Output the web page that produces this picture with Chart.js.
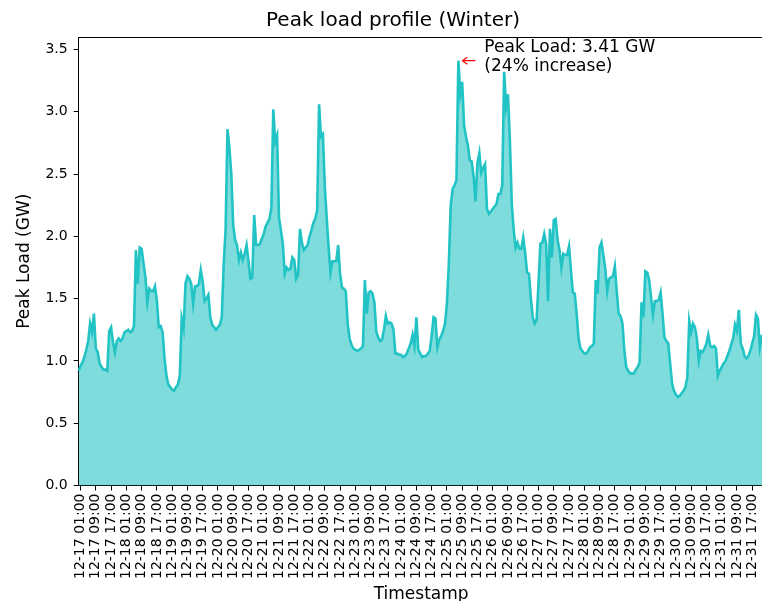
<!DOCTYPE html>
<html>
<head>
<meta charset="utf-8">
<script src="https://cdn.jsdelivr.net/npm/chart.js@4.4.0/dist/chart.umd.min.js"></script>
<style>
  html, body { margin: 0; padding: 0; background: #fff; overflow: hidden; }
  #wrap { width: 772px; height: 601px; }
</style>
</head>
<body>
<div id="wrap"><canvas id="loadChart"></canvas></div>
<script>
// days in the winter window, one value per hour
const days = ["12-17", "12-18", "12-19", "12-20", "12-21", "12-22", "12-23", "12-24",
  "12-25", "12-26", "12-27", "12-28", "12-29", "12-30", "12-31"];

const yTicks = [0, 0.5, 1.0, 1.5, 2.0, 2.5, 3.0, 3.5];

// peak load (GW), hourly, 12-17 00:00 .. 12-31 23:00
const peakLoad = [
  // 12-17
  0.92, 0.96, 0.99, 1.03, 1.09, 1.16, 1.30, 1.23, 1.38, 1.10, 1.07, 0.98,
  0.95, 0.93, 0.93, 0.92, 1.24, 1.27, 1.15, 1.07, 1.16, 1.18, 1.16, 1.18,
  // 12-18
  1.23, 1.24, 1.25, 1.23, 1.24, 1.28, 1.89, 1.62, 1.91, 1.90, 1.78, 1.67,
  1.47, 1.58, 1.56, 1.56, 1.60, 1.48, 1.27, 1.28, 1.23, 1.02, 0.88, 0.81,
  // 12-19
  0.79, 0.77, 0.76, 0.79, 0.81, 0.88, 1.34, 1.26, 1.62, 1.68, 1.66, 1.62,
  1.46, 1.60, 1.60, 1.62, 1.73, 1.64, 1.48, 1.50, 1.53, 1.35, 1.29, 1.27,
  // 12-20
  1.25, 1.27, 1.29, 1.35, 1.77, 2.05, 2.86, 2.71, 2.50, 2.09, 1.97, 1.93,
  1.81, 1.87, 1.81, 1.86, 1.93, 1.80, 1.66, 1.67, 2.17, 1.93, 1.93, 1.94,
  // 12-21
  1.98, 2.02, 2.08, 2.11, 2.14, 2.23, 3.02, 2.76, 2.81, 2.15, 2.05, 1.94,
  1.70, 1.75, 1.73, 1.74, 1.83, 1.81, 1.66, 1.69, 2.06, 1.95, 1.89, 1.91,
  // 12-22
  1.93, 2.00, 2.05, 2.11, 2.14, 2.21, 3.06, 2.80, 2.82, 2.40, 2.15, 1.91,
  1.71, 1.80, 1.80, 1.80, 1.93, 1.70, 1.59, 1.58, 1.56, 1.30, 1.18, 1.13,
  // 12-23
  1.10, 1.09, 1.08, 1.09, 1.10, 1.12, 1.65, 1.38, 1.55, 1.56, 1.54, 1.47,
  1.23, 1.19, 1.16, 1.17, 1.25, 1.36, 1.30, 1.31, 1.30, 1.25, 1.06, 1.06,
  // 12-24
  1.05, 1.05, 1.03, 1.04, 1.06, 1.10, 1.14, 1.21, 1.12, 1.35, 1.09, 1.06,
  1.03, 1.04, 1.04, 1.06, 1.08, 1.20, 1.35, 1.34, 1.11, 1.17, 1.20, 1.24,
  // 12-25
  1.30, 1.46, 1.78, 2.25, 2.38, 2.41, 2.45, 3.41, 3.14, 3.24, 2.89, 2.80,
  2.73, 2.61, 2.60, 2.48, 2.28, 2.59, 2.67, 2.51, 2.55, 2.58, 2.22, 2.18,
  // 12-26
  2.20, 2.22, 2.24, 2.26, 2.34, 2.34, 2.41, 3.32, 3.04, 3.14, 2.77, 2.26,
  2.05, 1.91, 1.95, 1.90, 1.90, 1.99, 1.87, 1.71, 1.70, 1.50, 1.35, 1.30,
  // 12-27
  1.33, 1.62, 1.94, 1.95, 2.02, 1.94, 1.48, 2.06, 1.83, 2.13, 2.14, 1.97,
  1.89, 1.75, 1.86, 1.85, 1.85, 1.92, 1.73, 1.55, 1.54, 1.38, 1.18, 1.10,
  // 12-28
  1.08, 1.06, 1.06, 1.08, 1.11, 1.12, 1.14, 1.65, 1.54, 1.91, 1.95, 1.85,
  1.74, 1.56, 1.66, 1.67, 1.68, 1.76, 1.56, 1.38, 1.36, 1.30, 1.08, 0.95,
  // 12-29
  0.92, 0.90, 0.90, 0.90, 0.93, 0.95, 0.99, 1.47, 1.35, 1.72, 1.71, 1.65,
  1.51, 1.37, 1.48, 1.48, 1.49, 1.55, 1.38, 1.19, 1.16, 1.14, 0.98, 0.82,
  // 12-30
  0.76, 0.73, 0.71, 0.72, 0.74, 0.76, 0.79, 0.87, 1.32, 1.23, 1.30, 1.27,
  1.18, 1.00, 1.08, 1.07, 1.10, 1.14, 1.21, 1.12, 1.11, 1.12, 1.10, 0.88,
  // 12-31
  0.92, 0.95, 0.98, 1.00, 1.04, 1.08, 1.13, 1.18, 1.29, 1.24, 1.41, 1.14,
  1.10, 1.04, 1.02, 1.04, 1.08, 1.14, 1.20, 1.37, 1.34, 1.11, 1.20, 1.21,
];

const peakText = ["Peak Load: 3.41 GW", "(24% increase)"];

const timestamps = [];
days.forEach((d) => {
  for (let h = 0; h < 24; h++) {
    timestamps.push(d + " " + String(h).padStart(2, "0") + ":00");
  }
});

Chart.defaults.font.family = "'DejaVu Sans', sans-serif";
Chart.defaults.color = "#000";

/*=============== FRAME + PEAK NOTE ===============*/
const framePlugin = {
  id: "frame",
  afterDatasetsDraw(chart) {
    const { ctx, chartArea: a } = chart;
    ctx.save();
    ctx.strokeStyle = "#000";
    ctx.lineWidth = 1;
    ctx.beginPath();
    ctx.moveTo(a.left, a.top + 0.5);
    ctx.lineTo(a.right, a.top + 0.5);
    ctx.stroke();
    ctx.restore();
  },
};

const peakPlugin = {
  id: "peakNote",
  afterDatasetsDraw(chart) {
    const { ctx } = chart;
    const x = chart.scales.x, y = chart.scales.y;
    const max = Math.max(...peakLoad);
    const idx = peakLoad.indexOf(max);
    const px = x.getPixelForValue(idx), py = y.getPixelForValue(max);

    // arrow
    ctx.save();
    ctx.strokeStyle = "red";
    ctx.lineWidth = 1.2;
    ctx.beginPath();
    ctx.moveTo(px + 17, py);
    ctx.lineTo(px + 4, py);
    ctx.moveTo(px + 9, py - 3.5);
    ctx.lineTo(px + 4, py);
    ctx.lineTo(px + 9, py + 3.5);
    ctx.stroke();

    ctx.fillStyle = "#000";
    ctx.font = "17px 'DejaVu Sans'";
    ctx.textBaseline = "middle";
    ctx.textAlign = "left";
    ctx.fillText(peakText[0], px + 26, py - 13);
    ctx.fillText(peakText[1], px + 26, py + 6);
    ctx.restore();
  },
};

const ctx = document.getElementById("loadChart").getContext("2d");
const chart = new Chart(ctx, {
  type: "line",
  data: {
    labels: timestamps,
    datasets: [
      {
        label: "Peak Load",
        data: peakLoad,
        borderColor: "#22c3c4",
        backgroundColor: "#7fdcdc",
        borderWidth: 2.6,
        pointRadius: 0,
        fill: "origin",
        tension: 0,
      },
    ],
  },
  options: {
    responsive: true,
    maintainAspectRatio: false,
    animation: false,
    layout: { padding: { left: 14, right: 0, top: 0, bottom: -2 } },
    plugins: {
      legend: { display: false },
      tooltip: { enabled: false },
      title: {
        display: true,
        text: "Peak load profile (Winter)",
        font: { size: 20, weight: "normal" },
        color: "#000",
        padding: { top: 9, bottom: 4 },
      },
    },
    scales: {
      x: {
        type: "category",
        offset: false,
        grid: { drawOnChartArea: false, drawTicks: true, tickLength: 5, color: "#000" },
        border: { display: true, color: "#000", width: 1 },
        ticks: {
          autoSkip: false,
          maxRotation: 90,
          minRotation: 90,
          padding: 3,
          font: { size: 14 },
          callback: function (val, i) {
            const lab = timestamps[i];
            return (i % 8 === 1) ? lab : null;
          },
        },
        title: { display: true, text: "Timestamp", font: { size: 17, lineHeight: 1 }, padding: { top: 4, bottom: 0 } },
      },
      y: {
        min: 0,
        max: 3.6,
        afterBuildTicks: (scale) => {
          scale.ticks = yTicks.map((v) => ({ value: v }));
        },
        grid: { drawOnChartArea: false, drawTicks: true, tickLength: 5, color: "#000" },
        border: { display: true, color: "#000", width: 1 },
        ticks: {
          padding: 6,
          font: { size: 14 },
          callback: (v) => Number(v).toFixed(1),
        },
        title: { display: true, text: "Peak Load (GW)", font: { size: 17 }, padding: { top: 0, bottom: 5 } },
      },
    },
  },
  plugins: [framePlugin, peakPlugin],
});
</script>
</body>
</html>
